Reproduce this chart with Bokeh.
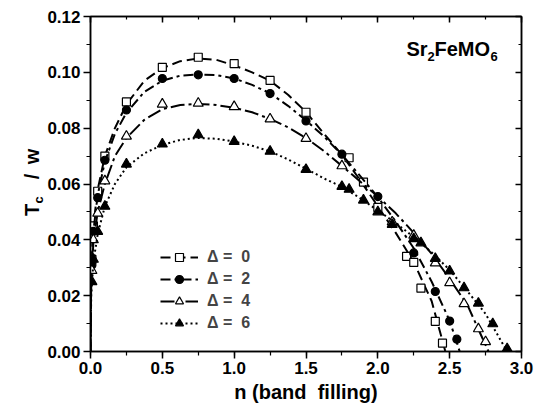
import math
from bokeh.plotting import figure
from bokeh.layouts import row
from bokeh.models import (LinearAxis, Range1d, SingleIntervalTicker, Legend, LegendItem,
                          Label, NumeralTickFormatter, CustomJSTickFormatter)
from bokeh.embed import file_html
from bokeh.resources import INLINE

# ---- measured points (n = band filling, Tc/w) ----
n_d0 = [0.01, 0.02, 0.05, 0.1, 0.25, 0.5, 0.75, 1.0, 1.25, 1.5, 1.8, 1.9, 2.0, 2.2, 2.25, 2.3, 2.4, 2.45]
tc_d0 = [0.033, 0.045, 0.0574, 0.070, 0.0894, 0.1018, 0.1054, 0.1031, 0.0971, 0.0857, 0.0694, 0.0607,
         0.0516, 0.0341, 0.0319, 0.0227, 0.0108, 0.0030]

n_d2 = [0.01, 0.02, 0.05, 0.1, 0.25, 0.5, 0.75, 1.0, 1.25, 1.5, 1.75, 2.0, 2.25, 2.4, 2.5, 2.55]
tc_d2 = [0.031, 0.043, 0.0551, 0.0685, 0.0865, 0.0978, 0.0991, 0.0978, 0.0924, 0.0826, 0.0707, 0.0555,
         0.0353, 0.0215, 0.0109, 0.0044]

n_d4 = [0.01, 0.02, 0.05, 0.1, 0.25, 0.5, 0.75, 1.0, 1.25, 1.5, 1.75, 2.1, 2.25, 2.4, 2.5, 2.6, 2.7, 2.75]
tc_d4 = [0.029, 0.040, 0.0495, 0.0611, 0.0771, 0.0886, 0.0889, 0.0877, 0.0833, 0.0763, 0.0665, 0.0464,
         0.0416, 0.0317, 0.0246, 0.0171, 0.0081, 0.0035]

n_d6 = [0.01, 0.02, 0.05, 0.1, 0.25, 0.5, 0.75, 1.0, 1.25, 1.5, 1.75, 1.8, 1.9, 2.0, 2.1, 2.25, 2.3,
        2.4, 2.5, 2.6, 2.7, 2.8, 2.9]
tc_d6 = [0.025, 0.033, 0.043, 0.052, 0.0671, 0.0743, 0.0776, 0.0752, 0.0717, 0.0652, 0.0591, 0.0581,
         0.0542, 0.0500, 0.0455, 0.0404, 0.0389, 0.0333, 0.0288, 0.0228, 0.0173, 0.0099, 0.001]

# ---- fitted curves ----
fit_n_d0 = [0, 0.005, 0.02, 0.05, 0.1, 0.17, 0.25, 0.375, 0.5, 0.625, 0.75, 0.875, 1.0, 1.125, 1.25,
            1.375, 1.5, 1.625, 1.75, 1.875, 2.0, 2.125, 2.25, 2.375, 2.47]
fit_tc_d0 = [0, 0.028, 0.045, 0.058, 0.070, 0.080, 0.0885, 0.097, 0.1015, 0.104, 0.105, 0.1045, 0.1025,
             0.100, 0.097, 0.092, 0.0858, 0.078, 0.0705, 0.0615, 0.052, 0.0425, 0.032, 0.018, 0.0]

fit_n_d2 = [0, 0.005, 0.02, 0.05, 0.1, 0.17, 0.25, 0.375, 0.5, 0.625, 0.75, 0.875, 1.0, 1.125, 1.25,
            1.375, 1.5, 1.625, 1.75, 1.875, 2.0, 2.125, 2.25, 2.375, 2.5, 2.57]
fit_tc_d2 = [0, 0.027, 0.043, 0.056, 0.068, 0.078, 0.0855, 0.093, 0.097, 0.0988, 0.0992, 0.099, 0.0978,
             0.0955, 0.0925, 0.088, 0.0828, 0.077, 0.0705, 0.063, 0.0553, 0.0465, 0.037, 0.025, 0.011, 0.0]

fit_n_d4 = [0, 0.005, 0.02, 0.05, 0.1, 0.17, 0.25, 0.375, 0.5, 0.625, 0.75, 0.875, 1.0, 1.125, 1.25,
            1.375, 1.5, 1.625, 1.75, 1.875, 2.0, 2.125, 2.25, 2.375, 2.5, 2.625, 2.77]
fit_tc_d4 = [0, 0.025, 0.039, 0.050, 0.060, 0.070, 0.0765, 0.083, 0.0868, 0.0883, 0.0887, 0.0883, 0.0873,
             0.0857, 0.0833, 0.0803, 0.0765, 0.0718, 0.0665, 0.061, 0.0555, 0.0495, 0.0425, 0.035, 0.026,
             0.0165, 0.0]

fit_n_d6 = [0, 0.005, 0.02, 0.05, 0.1, 0.17, 0.25, 0.375, 0.5, 0.625, 0.75, 0.875, 1.0, 1.125, 1.25,
            1.375, 1.5, 1.625, 1.75, 1.875, 2.0, 2.125, 2.25, 2.375, 2.5, 2.625, 2.75, 2.9]
fit_tc_d6 = [0, 0.020, 0.032, 0.042, 0.052, 0.060, 0.066, 0.071, 0.074, 0.0758, 0.0765, 0.0762, 0.0752,
             0.0737, 0.0717, 0.0688, 0.0655, 0.062, 0.059, 0.055, 0.0505, 0.046, 0.041, 0.0355, 0.0292,
             0.0215, 0.0135, 0.0]

legend_labels = ["Δ =\u00a0\u00a00", "Δ =\u00a0\u00a02", "Δ =\u00a0\u00a04", "Δ =\u00a0\u00a06"]
x_title = "n (band\u00a0\u00a0filling)"

FONT = "Liberation Sans"

def lab(fig, text, x, y, size, angle=0.0, align="left", baseline="alphabetic"):
    fig.add_layout(Label(x=x, y=y, x_units="screen", y_units="screen", text=text, angle=angle,
                         text_font=FONT, text_font_style="bold", text_font_size=size,
                         text_color="black", text_align=align, text_baseline=baseline))

# ---- narrow left panel carrying the y-axis title (T_c / w) ----
pl = figure(width=44, height=405, x_range=Range1d(0, 1), y_range=Range1d(0, 1),
            output_backend="svg", toolbar_location=None, x_axis_type=None, y_axis_type=None,
            min_border_left=0, min_border_right=0, min_border_top=16, min_border_bottom=54)
pl.xgrid.visible = False
pl.ygrid.visible = False
pl.outline_line_color = None
pl.background_fill_color = "white"
pl.border_fill_color = "white"

ang = math.pi / 2
lab(pl, "T", 31, 141.5, "20px", angle=ang, align="center", baseline="middle")
lab(pl, "c", 37.5, 151.5, "13px", angle=ang, align="center", baseline="middle")
lab(pl, "/", 31, 175, "20px", angle=ang, align="center", baseline="middle")
lab(pl, "w", 31, 195, "20px", angle=ang, align="center", baseline="middle")

# ---- main plot ----
p = figure(width=490, height=405, x_range=Range1d(0, 3), y_range=Range1d(0, 0.12),
           output_backend="svg", toolbar_location=None,
           min_border_left=46, min_border_right=13, min_border_top=16, min_border_bottom=54)
p.xgrid.visible = False
p.ygrid.visible = False
p.outline_line_color = "black"
p.outline_line_width = 1.5
p.background_fill_color = "white"
p.border_fill_color = "white"

xt = SingleIntervalTicker(interval=0.5, num_minor_ticks=2)
yt = SingleIntervalTicker(interval=0.02, num_minor_ticks=2)

xa = p.xaxis[0]
xa.ticker = xt
xa.formatter = NumeralTickFormatter(format="0.0")
xa.axis_label = x_title
xa.axis_label_text_font = FONT
xa.axis_label_text_font_style = "bold"
xa.axis_label_text_font_size = "20px"
xa.axis_label_text_color = "black"
xa.axis_label_standoff = 4
ya = p.yaxis[0]
ya.ticker = yt
ya.formatter = NumeralTickFormatter(format="0.00")
for ax in (xa, ya):
    ax.axis_line_color = "black"
    ax.axis_line_width = 1.5
    ax.major_tick_line_color = "black"
    ax.minor_tick_line_color = "black"
    ax.major_tick_line_width = 1.5
    ax.minor_tick_line_width = 1.2
    ax.major_tick_out = 7
    ax.major_tick_in = 0
    ax.minor_tick_out = 4
    ax.minor_tick_in = 0
    ax.major_label_text_font = FONT
    ax.major_label_text_font_style = "bold"
    ax.major_label_text_font_size = "17px"
    ax.major_label_text_color = "black"
    ax.major_label_standoff = 3

blank = CustomJSTickFormatter(code="return ''")
for loc, tk in (("right", yt), ("above", xt)):
    a = LinearAxis(ticker=tk, formatter=blank, major_label_standoff=0,
                   major_tick_in=6, major_tick_out=0, minor_tick_in=3, minor_tick_out=0,
                   axis_line_color="black", axis_line_width=1.5,
                   major_tick_line_width=1.5, minor_tick_line_width=1.2)
    p.add_layout(a, loc)

series = [
    (fit_n_d0, fit_tc_d0, n_d0, tc_d0, "10 5", "square", 8, "white"),
    (fit_n_d2, fit_tc_d2, n_d2, tc_d2, "10 4 3 4", "circle", 8, "black"),
    (fit_n_d4, fit_tc_d4, n_d4, tc_d4, "14 4 3 4", "triangle", 10, "white"),
    (fit_n_d6, fit_tc_d6, n_d6, tc_d6, "2 3", "triangle", 10, "black"),
]
items = []
for (fx, fy, mx, my, dash, mk, sz, fill), lbl in zip(series, legend_labels):
    lr = p.line(fx, fy, line_color="black", line_width=2, line_dash=dash)
    sr = p.scatter(mx, my, marker=mk, size=sz, fill_color=fill, line_color="black", line_width=1.2)
    items.append(LegendItem(label=lbl, renderers=[lr, sr]))

leg = Legend(items=items, location=(70, 18), glyph_width=38, glyph_height=20, label_height=20,
             spacing=2, padding=0, margin=0, border_line_color=None, background_fill_alpha=0,
             label_text_font=FONT, label_text_font_style="bold", label_text_font_size="16px",
             label_standoff=9)
p.add_layout(leg)

# compound title Sr2FeMO6
lab(p, "Sr", 316, 303, "20px")
lab(p, "2", 337, 295, "13px")
lab(p, "FeMO", 344, 303, "20px")
lab(p, "6", 400, 295, "13px")

layout = row(pl, p)
open("out.html", "w").write(file_html(layout, INLINE))
